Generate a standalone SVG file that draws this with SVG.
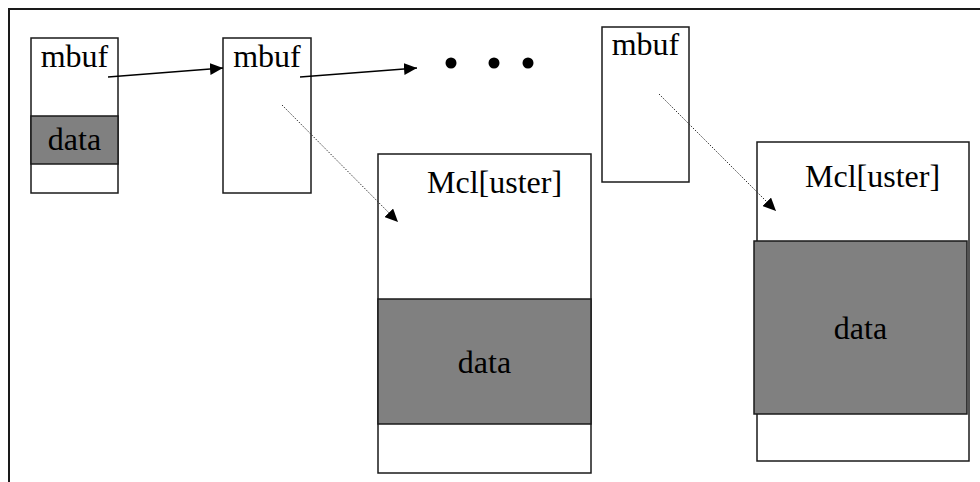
<svg xmlns="http://www.w3.org/2000/svg" width="980" height="482" viewBox="0 0 980 482">
<defs>
<style>
.frame{fill:none;stroke:#1a1a1a;stroke-width:2}
.box{fill:#fff;stroke:#1a1a1a;stroke-width:1.5}
.data{fill:#808080;stroke:#1a1a1a;stroke-width:1.5}
.t{font-family:"Liberation Serif","Times New Roman",serif;font-size:32px;fill:#000}
.solid{stroke:#000;stroke-width:1.6;fill:none}
.dot{stroke:#333;stroke-width:1;stroke-dasharray:1.5 1.5;fill:none}
</style>
<marker id="ah" markerUnits="userSpaceOnUse" markerWidth="14" markerHeight="12" refX="13" refY="6" orient="auto">
<path d="M0,0 L13,6 L0,12 Z" fill="#000"/>
</marker>
</defs>
<rect width="980" height="482" fill="#fff"/>
<rect class="frame" x="9" y="9" width="1000" height="500"/>
<g id="mbuf1">
<rect class="box" x="31" y="38" width="87" height="155"/>
<rect class="data" x="31" y="116" width="87" height="48"/>
<text class="t" x="74.5" y="67" text-anchor="middle">mbuf</text>
<text class="t" x="74.5" y="150" text-anchor="middle">data</text>
</g>
<g id="mbuf2">
<rect class="box" x="223" y="38" width="88" height="155"/>
<text class="t" x="267" y="67" text-anchor="middle">mbuf</text>
</g>
<g id="ellipsis">
<circle cx="451" cy="63" r="5.5" fill="#000"/>
<circle cx="494" cy="63" r="5.5" fill="#000"/>
<circle cx="528" cy="63" r="5.5" fill="#000"/>
</g>
<g id="mbuf3">
<rect class="box" x="602" y="27" width="87" height="155"/>
<text class="t" x="645.5" y="55" text-anchor="middle">mbuf</text>
</g>
<g id="cluster1">
<rect class="box" x="378" y="154" width="213" height="319"/>
<rect class="data" x="378" y="299" width="213" height="125"/>
<text class="t" x="427" y="193">Mcl[uster]</text>
<text class="t" x="484.5" y="373" text-anchor="middle">data</text>
</g>
<g id="cluster2">
<rect class="box" x="757" y="142" width="212" height="319"/>
<rect class="data" x="754" y="241" width="213" height="173"/>
<text class="t" x="805" y="187">Mcl[uster]</text>
<text class="t" x="860.5" y="339" text-anchor="middle">data</text>
</g>
<g id="connectors">
<line class="solid" x1="108" y1="77" x2="223" y2="68" marker-end="url(#ah)"/>
<line class="solid" x1="300" y1="77" x2="417" y2="68" marker-end="url(#ah)"/>
<line class="dot" x1="282" y1="105" x2="398" y2="222" marker-end="url(#ah)"/>
<line class="dot" x1="659" y1="94" x2="776" y2="211" marker-end="url(#ah)"/>
</g>
</svg>
